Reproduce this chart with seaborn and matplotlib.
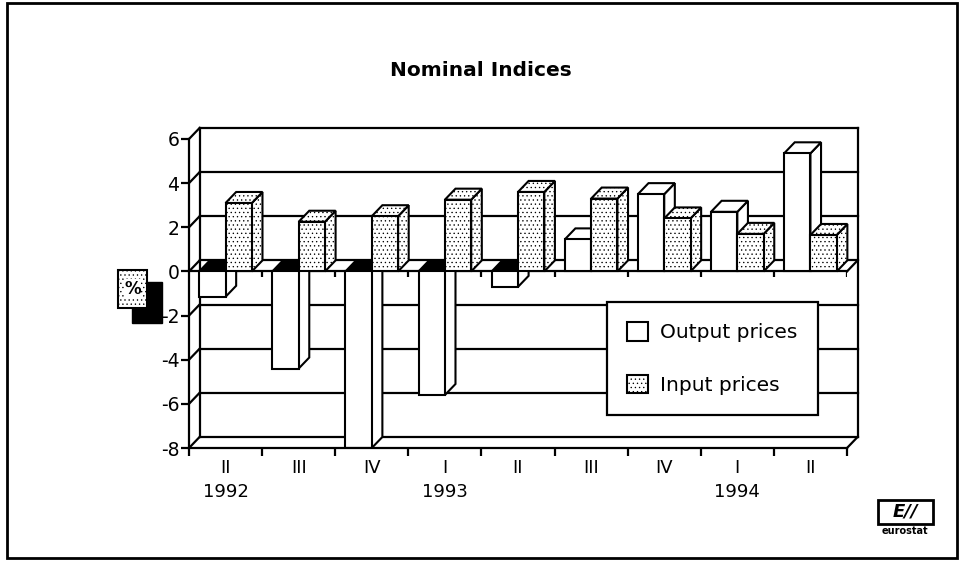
import numpy as np
import pandas as pd
import matplotlib
matplotlib.use("Agg")
import matplotlib.pyplot as plt
import matplotlib.patches as mpatches
from matplotlib.patches import Polygon, Rectangle
import seaborn as sns

sns.set_theme(style="white")
plt.rcParams['font.family'] = ['DejaVu Sans']
plt.rcParams['axes.unicode_minus'] = False
plt.rcParams['hatch.linewidth'] = 0.45
for key in ['text.color', 'axes.labelcolor', 'xtick.color', 'ytick.color']:
    plt.rcParams[key] = 'black'

# data
quarters = ['II\n1992', 'III', 'IV', 'I\n1993', 'II', 'III', 'IV', 'I\n1994', 'II']
output_prices = [-1.15, -4.4, -8.0, -5.6, -0.7, 1.45, 3.5, 2.7, 5.35]
input_prices = [3.1, 2.25, 2.5, 3.25, 3.6, 3.3, 2.4, 1.7, 1.65]
series = ['Output prices', 'Input prices']

df = pd.DataFrame({
    'quarter': list(range(len(quarters))) * 2,
    'series': [series[0]] * len(quarters) + [series[1]] * len(quarters),
    'value': output_prices + input_prices,
})

W, H = 962, 561
fig = plt.figure(figsize=(W / 100, H / 100), dpi=100)
ax = fig.add_axes([189 / W, 1 - 448 / H, (847 - 189) / W, (448 - 139) / H])
ax.set_facecolor('none')

sns.barplot(data=df, x='quarter', y='value', hue='series', hue_order=series,
            palette=['white', 'white'], width=0.72, dodge=True, saturation=1,
            edgecolor='black', linewidth=1.5, legend=False, ax=ax, zorder=5)

ax.set_xlim(-0.5, 8.5)
ax.set_ylim(-8, 6)

# depth of the 3d effect, data units
dx, dy = 0.145, 0.5
lw = 1.6
k = dict(color='black', lw=lw, clip_on=False, solid_capstyle='projecting')

# back wall, left wall and floor
x0, x1 = -0.5, 8.5
for v in range(-8, 7, 2):
    ax.plot([x0, x0 + dx], [v, v + dy], zorder=1, **k)
    ax.plot([x0 + dx, x1 + dx], [v + dy, v + dy], zorder=1, **k)
ax.plot([x0 + dx, x0 + dx], [-8 + dy, 6 + dy], zorder=1, **k)
ax.plot([x1 + dx, x1 + dx], [-8 + dy, 6 + dy], zorder=1, **k)
ax.plot([x1, x1 + dx], [-8, -8 + dy], zorder=1, **k)
# zero plane front edge
ax.plot([x0, x1], [0, 0], zorder=2, **k)
ax.plot([x1, x1 + dx], [0, dy], zorder=2, **k)
bounds = np.arange(-0.5, 9, 1)
ax.vlines(bounds[1:], -0.25, 0, color='black', lw=lw, zorder=2)

# 3d faces for every bar, drawn left to right
bars = []
for si, cont in enumerate(ax.containers):
    for qi, p in enumerate(cont.patches):
        bars.append((qi, si, p))
bars.sort(key=lambda b: (b[0], b[1]))
for n, (qi, si, p) in enumerate(bars):
    z = 5 + n * 0.1
    hatch = '....' if si == 1 else None
    p.set_zorder(z + 0.05)
    if hatch:
        p.set_hatch(hatch)
    bx0 = p.get_x()
    bx1 = bx0 + p.get_width()
    top = max(p.get_y(), p.get_y() + p.get_height())
    bot = min(p.get_y(), p.get_y() + p.get_height())
    side = Polygon([(bx1, bot), (bx1 + dx, bot + dy), (bx1 + dx, top + dy), (bx1, top)],
                   closed=True, facecolor='white', edgecolor='black', lw=1.5,
                   hatch=hatch, zorder=z, clip_on=False)
    cap_fc = 'white' if top > 0 else 'black'
    cap = Polygon([(bx0, top), (bx1, top), (bx1 + dx, top + dy), (bx0 + dx, top + dy)],
                  closed=True, facecolor=cap_fc, edgecolor='black', lw=1.5,
                  hatch=hatch if top > 0 else None, zorder=z, clip_on=False)
    ax.add_patch(side)
    ax.add_patch(cap)

# axes
sns.despine(ax=ax, top=True, right=True)
for s in ['left', 'bottom']:
    ax.spines[s].set_linewidth(lw)
    ax.spines[s].set_color('black')
    ax.spines[s].set_zorder(20)
ax.set_yticks(range(-8, 7, 2))
ax.set_yticklabels([str(v) for v in range(-8, 7, 2)])
ax.set_xticks(range(len(quarters)))
ax.set_xticklabels(quarters, linespacing=1.4, va='top')
ax.set_xticks(bounds, minor=True)
ax.tick_params(axis='y', which='major', direction='out', length=6, width=lw,
               color='black', labelsize=13.5, pad=1, left=True)
ax.tick_params(axis='x', which='major', length=0, labelsize=13, pad=8)
ax.tick_params(axis='x', which='minor', direction='out', length=6, width=lw,
               color='black', bottom=True)
ax.set_xlabel('')
ax.set_ylabel('')
ax.grid(False)

# legend
handles = [mpatches.Patch(facecolor='white', edgecolor='black', lw=1.5, label=series[0]),
           mpatches.Patch(facecolor='white', edgecolor='black', lw=1.5, hatch='....', label=series[1])]
leg = fig.legend(handles=handles, loc='upper left', bbox_to_anchor=(607 / W, 1 - 302 / H),
                 fontsize=14.5, frameon=True, fancybox=False, edgecolor='black',
                 framealpha=1, facecolor='white',
                 handlelength=1.05, handleheight=1.05, handletextpad=0.6,
                 labelspacing=1.6, borderpad=1.0, borderaxespad=0)
leg.get_frame().set_linewidth(lw)
leg.set_zorder(30)

# title
fig.text(481 / W, 1 - 70 / H, 'Nominal Indices', ha='center', va='center',
         fontsize=14.5, fontweight='bold')

# "%" badge
fig.add_artist(Rectangle((132 / W, 1 - 323 / H), 30 / W, 41 / H, transform=fig.transFigure,
                         facecolor='black', edgecolor='black'))
fig.add_artist(Rectangle((118 / W, 1 - 308 / H), 29 / W, 38 / H, transform=fig.transFigure,
                         facecolor='white', edgecolor='black', lw=1.5, hatch='....'))
fig.text(132.5 / W, 1 - 289 / H, '%', ha='center', va='center', fontsize=12,
         fontweight='bold', bbox=dict(facecolor='white', edgecolor='none', pad=0.5))

# eurostat logo
fig.add_artist(Rectangle((878 / W, 1 - 524 / H), 55 / W, 24 / H, transform=fig.transFigure,
                         facecolor='white', edgecolor='black', lw=2))
fig.text(905 / W, 1 - 512 / H, 'E//', ha='center', va='center', fontsize=13,
         fontweight='bold', style='italic')
fig.text(905 / W, 1 - 531 / H, 'eurostat', ha='center', va='center', fontsize=7,
         fontweight='bold')

# outer frame
fig.add_artist(Rectangle((7 / W, 1 - 558 / H), 950 / W, 555 / H, transform=fig.transFigure,
                         facecolor='none', edgecolor='black', lw=2))

fig.savefig('out.png', dpi=100)
